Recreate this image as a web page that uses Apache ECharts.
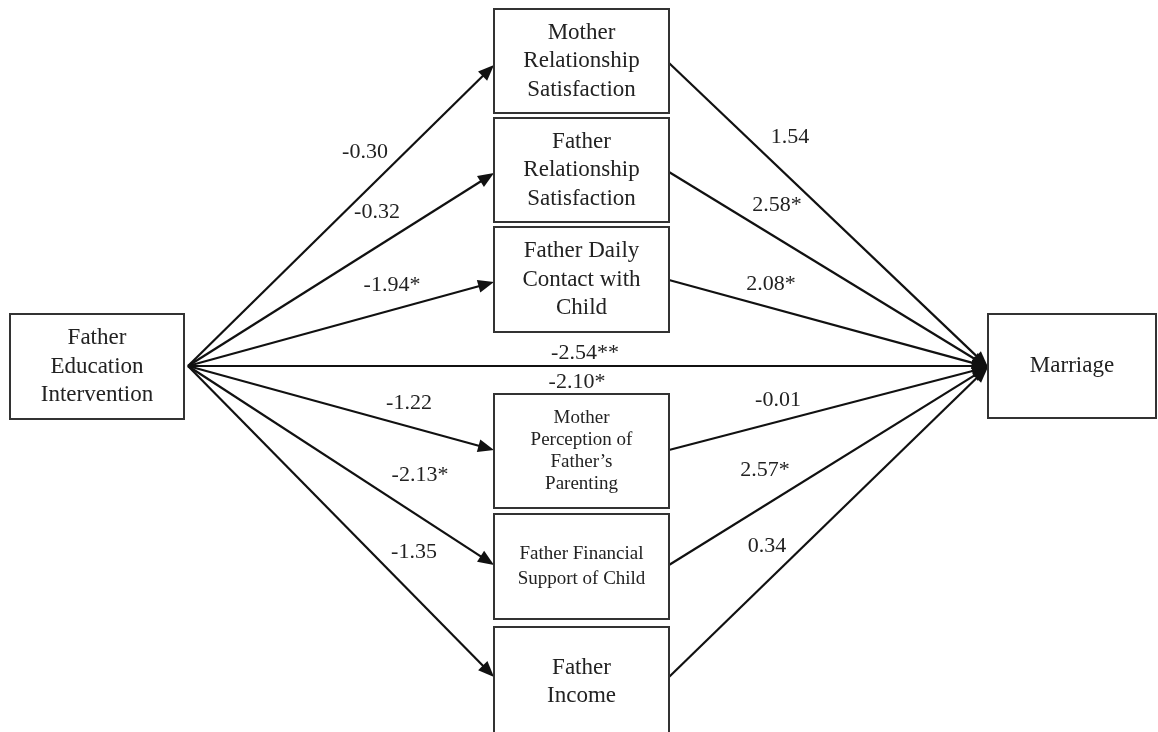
<!DOCTYPE html>
<html>
<head>
<meta charset="utf-8">
<script src="https://cdn.jsdelivr.net/npm/echarts@6/dist/echarts.min.js"></script>
<style>
html,body{margin:0;padding:0;background:#fff;}
#chart{width:1158px;height:732px;}
</style>
</head>
<body>
<div id="chart"></div>
<script>
// ---- content (text / values) ----
const boxLabels = [
  'Father\nEducation\nIntervention',
  'Mother\nRelationship\nSatisfaction',
  'Father\nRelationship\nSatisfaction',
  'Father Daily\nContact with\nChild',
  'Mother\nPerception of\nFather\u2019s\nParenting',
  'Father Financial\nSupport of Child',
  'Father\nIncome',
  'Marriage'
];
const toMediatorCoef = ['-0.30', '-0.32', '-1.94*', '-1.22', '-2.13*', '-1.35'];
const toMarriageCoef = ['1.54', '2.58*', '2.08*', '-0.01', '2.57*', '0.34'];
const directCoef = ['-2.54**', '-2.10*'];

// ---- layout (axis units = page pixels of a hidden axis) ----
const boxX0 = [10, 494, 494, 494, 494, 494, 494, 988];
const boxX1 = [184, 669, 669, 669, 669, 669, 669, 1156];
const boxY0 = [314, 9, 118, 227, 394, 514, 627, 314];
const boxY1 = [419, 113, 222, 332, 508, 619, 737, 418];
const boxFont = [23, 23, 23, 23, 19, 19, 23, 23];
const boxLine = [28.5, 28.5, 28.5, 28.5, 22, 25, 28.5, 28.5];

const srcPoint = [188, 366];
const dstPoint = [988, 367];
const mediatorInY = [65, 173, 282, 450, 565, 677];
const mediatorOutY = [63, 172, 280, 450, 565, 677];
const mediatorLeftX = 494, mediatorRightX = 669;

const toMediatorLabelX = [365, 377, 392, 409, 420, 414];
const toMediatorLabelY = [152, 212, 285, 403, 475, 552];
const toMarriageLabelX = [790, 777, 771, 778, 765, 767];
const toMarriageLabelY = [137, 205, 284, 400, 470, 546];
const directLabelX = [585, 577];
const directLabelY = [353, 382];

const FONT = '"Liberation Serif", "Times New Roman", "DejaVu Serif", serif';

// ---- build series data ----
const edgeData = [];
mediatorInY.forEach(y => edgeData.push([srcPoint[0], srcPoint[1], mediatorLeftX, y]));
mediatorOutY.forEach(y => edgeData.push([mediatorRightX, y, dstPoint[0], dstPoint[1]]));
edgeData.push([srcPoint[0], srcPoint[1], dstPoint[0], srcPoint[1]]);

const boxData = boxLabels.map((t, i) => [boxX0[i], boxY0[i], boxX1[i], boxY1[i]]);

const labelTexts = [].concat(toMediatorCoef, toMarriageCoef, directCoef);
const labelX = [].concat(toMediatorLabelX, toMarriageLabelX, directLabelX);
const labelY = [].concat(toMediatorLabelY, toMarriageLabelY, directLabelY);
const labelData = labelTexts.map((t, i) => [labelX[i], labelY[i]]);

const chart = echarts.init(document.getElementById('chart'), null, {renderer: 'canvas'});

chart.setOption({
  backgroundColor: '#ffffff',
  animation: false,
  grid: {left: 0, right: 0, top: 0, bottom: 0},
  xAxis: {type: 'value', min: 0, max: 1158, show: false},
  yAxis: {type: 'value', min: 0, max: 732, inverse: true, show: false},
  series: [
    {
      type: 'custom',
      name: 'paths',
      clip: false,
      data: edgeData,
      renderItem: function (params, api) {
        const p0 = api.coord([api.value(0), api.value(1)]);
        const p1 = api.coord([api.value(2), api.value(3)]);
        const dx = p1[0] - p0[0], dy = p1[1] - p0[1];
        const len = Math.sqrt(dx * dx + dy * dy);
        const ux = dx / len, uy = dy / len;
        const L = 16, W = 6.5;
        const bx = p1[0] - ux * L, by = p1[1] - uy * L;
        return {
          type: 'group',
          children: [
            {
              type: 'line',
              shape: {x1: p0[0], y1: p0[1], x2: bx + ux * 2, y2: by + uy * 2},
              style: {stroke: '#111', lineWidth: 2.2}
            },
            {
              type: 'polygon',
              shape: {points: [[p1[0], p1[1]], [bx - uy * W, by + ux * W], [bx + uy * W, by - ux * W]]},
              style: {fill: '#111', stroke: null}
            }
          ]
        };
      }
    },
    {
      type: 'custom',
      name: 'boxes',
      clip: false,
      data: boxData,
      renderItem: function (params, api) {
        const i = params.dataIndex;
        const a = api.coord([api.value(0), api.value(1)]);
        const b = api.coord([api.value(2), api.value(3)]);
        const x = Math.min(a[0], b[0]), y = Math.min(a[1], b[1]);
        const w = Math.abs(b[0] - a[0]), h = Math.abs(b[1] - a[1]);
        return {
          type: 'group',
          children: [
            {
              type: 'rect',
              shape: {x: x, y: y, width: w, height: h},
              style: {fill: '#fff', stroke: '#333', lineWidth: 2}
            },
            {
              type: 'text',
              x: x + w / 2,
              y: y + h / 2,
              style: {
                text: boxLabels[i],
                fill: '#222',
                font: boxFont[i] + 'px ' + FONT,
                lineHeight: boxLine[i],
                align: 'center',
                verticalAlign: 'middle'
              }
            }
          ]
        };
      }
    },
    {
      type: 'custom',
      name: 'coefficients',
      clip: false,
      data: labelData,
      renderItem: function (params, api) {
        const p = api.coord([api.value(0), api.value(1)]);
        return {
          type: 'text',
          x: p[0],
          y: p[1],
          style: {
            text: labelTexts[params.dataIndex],
            fill: '#222',
            font: '22px ' + FONT,
            align: 'center',
            verticalAlign: 'middle'
          }
        };
      }
    }
  ]
});
</script>
</body>
</html>
